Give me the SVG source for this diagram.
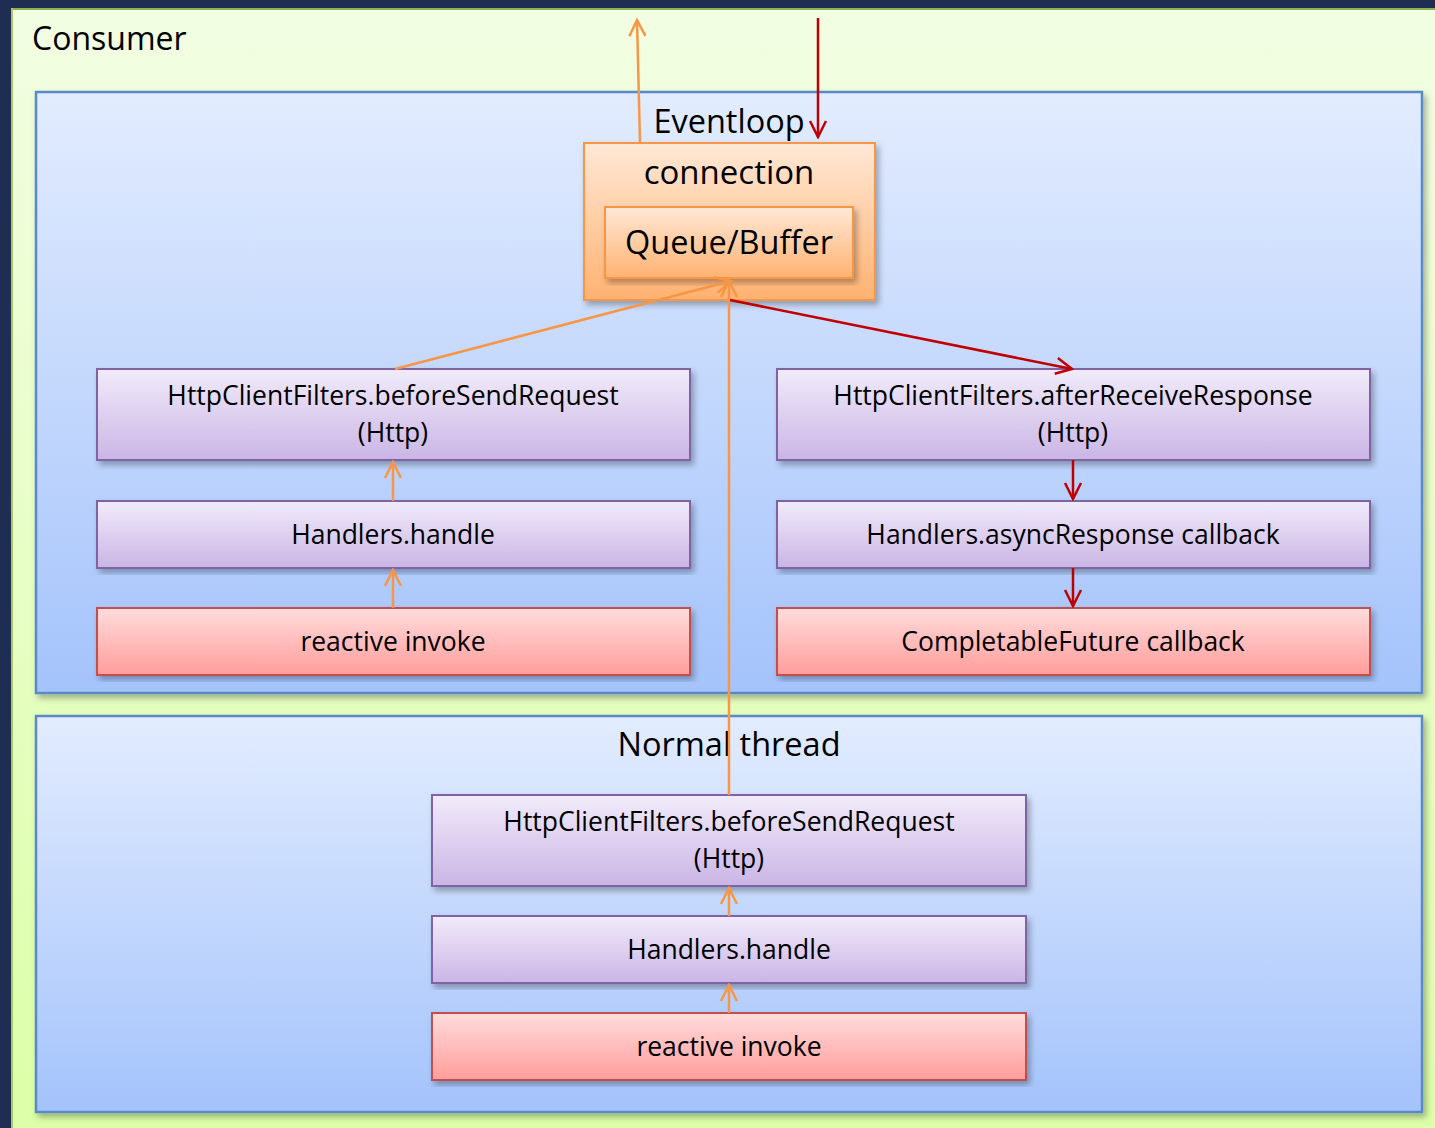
<svg xmlns="http://www.w3.org/2000/svg" width="1435" height="1128" viewBox="0 0 1435 1128">
<defs>
<linearGradient id="gBg" x1="0" y1="0" x2="0" y2="1"><stop offset="0" stop-color="#f2fde2"/><stop offset="1" stop-color="#dcffa8"/></linearGradient>
<linearGradient id="gBlue" x1="0" y1="0" x2="0" y2="1"><stop offset="0" stop-color="#e2ecfe"/><stop offset="1" stop-color="#a4c3fb"/></linearGradient>
<linearGradient id="gOr" x1="0" y1="0" x2="0" y2="1"><stop offset="0" stop-color="#ffe8d6"/><stop offset="1" stop-color="#ffb271"/></linearGradient>
<linearGradient id="gPu" x1="0" y1="0" x2="0" y2="1"><stop offset="0" stop-color="#f1ebfa"/><stop offset="1" stop-color="#cab5e5"/></linearGradient>
<linearGradient id="gRe" x1="0" y1="0" x2="0" y2="1"><stop offset="0" stop-color="#ffdcdc"/><stop offset="1" stop-color="#ff9d9b"/></linearGradient>
<filter id="sh" x="-5%" y="-5%" width="110%" height="115%"><feDropShadow dx="3" dy="4" stdDeviation="3" flood-color="#000" flood-opacity="0.3"/></filter>
<marker id="aO" viewBox="0 0 20 20" refX="18" refY="10" markerWidth="20" markerHeight="20" markerUnits="userSpaceOnUse" orient="auto"><path d="M2 2 L18 10 L2 18" fill="none" stroke="#f79646" stroke-width="2.5"/></marker>
<marker id="aR" viewBox="0 0 20 20" refX="18" refY="10" markerWidth="20" markerHeight="20" markerUnits="userSpaceOnUse" orient="auto"><path d="M2 2 L18 10 L2 18" fill="none" stroke="#c00000" stroke-width="2.5"/></marker>
</defs>
<style>
.t{font-family:"Open Sans","Noto Sans","DejaVu Sans",sans-serif;fill:#000;text-anchor:middle}
.pu{fill:url(#gPu);stroke:#8064a2;stroke-width:2;filter:url(#sh)}
.re{fill:url(#gRe);stroke:#c0504d;stroke-width:2;filter:url(#sh)}
.bl{fill:url(#gBlue);stroke:#5a89c5;stroke-width:2.5;filter:url(#sh)}
.or{fill:url(#gOr);stroke:#f79646;stroke-width:2;filter:url(#sh)}
.lo{stroke:#f79646;stroke-width:2.5;fill:none;marker-end:url(#aO)}
.lr{stroke:#c00000;stroke-width:2.5;fill:none;marker-end:url(#aR)}
.bt{font-size:26.5px}
.h{font-size:32.5px}
</style>
<rect x="0" y="0" width="1435" height="1128" fill="#1f2d52"/>
<g id="consumer">
<rect x="11" y="8" width="1430" height="1125" fill="url(#gBg)"/>
<line x1="11" y1="9" x2="1435" y2="9" stroke="#8cb34a" stroke-width="2"/>
<line x1="12" y1="8" x2="12" y2="1128" stroke="#a8c86a" stroke-width="2"/>
<text class="t" x="32" y="50" style="text-anchor:start;font-size:32px">Consumer</text>
</g>
<g id="eventloop">
<rect class="bl" x="36" y="92" width="1386" height="601"/>
<text class="t h" x="729" y="133">Eventloop</text>
</g>
<g id="normal-thread">
<rect class="bl" x="36" y="716" width="1386" height="396"/>
<text class="t h" x="729" y="756">Normal thread</text>
</g>
<g id="connection">
<rect class="or" x="584" y="143" width="291" height="157"/>
<text class="t" x="729" y="184" font-size="33">connection</text>
</g>
<g id="queue">
<rect class="or" x="605" y="207" width="248" height="71"/>
<text class="t h" x="729" y="254">Queue/Buffer</text>
</g>
<g id="l-before">
<rect class="pu" x="97" y="369" width="593" height="91"/>
<text class="t bt" x="393" y="405">HttpClientFilters.beforeSendRequest</text>
<text class="t bt" x="393" y="442">(Http)</text>
</g>
<g id="l-handle">
<rect class="pu" x="97" y="501" width="593" height="67"/>
<text class="t bt" x="393" y="544">Handlers.handle</text>
</g>
<g id="l-invoke">
<rect class="re" x="97" y="608" width="593" height="67"/>
<text class="t bt" x="393" y="651">reactive invoke</text>
</g>
<g id="r-after">
<rect class="pu" x="777" y="369" width="593" height="91"/>
<text class="t bt" x="1073" y="405">HttpClientFilters.afterReceiveResponse</text>
<text class="t bt" x="1073" y="442">(Http)</text>
</g>
<g id="r-async">
<rect class="pu" x="777" y="501" width="593" height="67"/>
<text class="t bt" x="1073" y="544">Handlers.asyncResponse callback</text>
</g>
<g id="r-future">
<rect class="re" x="777" y="608" width="593" height="67"/>
<text class="t bt" x="1073" y="651">CompletableFuture callback</text>
</g>
<g id="b-before">
<rect class="pu" x="432" y="795" width="594" height="91"/>
<text class="t bt" x="729" y="831">HttpClientFilters.beforeSendRequest</text>
<text class="t bt" x="729" y="868">(Http)</text>
</g>
<g id="b-handle">
<rect class="pu" x="432" y="916" width="594" height="67"/>
<text class="t bt" x="729" y="959">Handlers.handle</text>
</g>
<g id="b-invoke">
<rect class="re" x="432" y="1013" width="594" height="67"/>
<text class="t bt" x="729" y="1056">reactive invoke</text>
</g>
<g id="connectors">
<line class="lo" x1="640" y1="143" x2="637" y2="20"/>
<line class="lr" x1="818" y1="18" x2="818" y2="137"/>
<line class="lo" x1="395" y1="369" x2="731" y2="281"/>
<line class="lo" x1="729" y1="795" x2="729" y2="281"/>
<line class="lr" x1="730" y1="300" x2="1072" y2="369"/>
<line class="lo" x1="393" y1="501" x2="393" y2="462"/>
<line class="lo" x1="393" y1="608" x2="393" y2="570"/>
<line class="lr" x1="1073" y1="460" x2="1073" y2="499"/>
<line class="lr" x1="1073" y1="568" x2="1073" y2="606"/>
<line class="lo" x1="729" y1="916" x2="729" y2="888"/>
<line class="lo" x1="729" y1="1013" x2="729" y2="985"/>
</g>
</svg>
